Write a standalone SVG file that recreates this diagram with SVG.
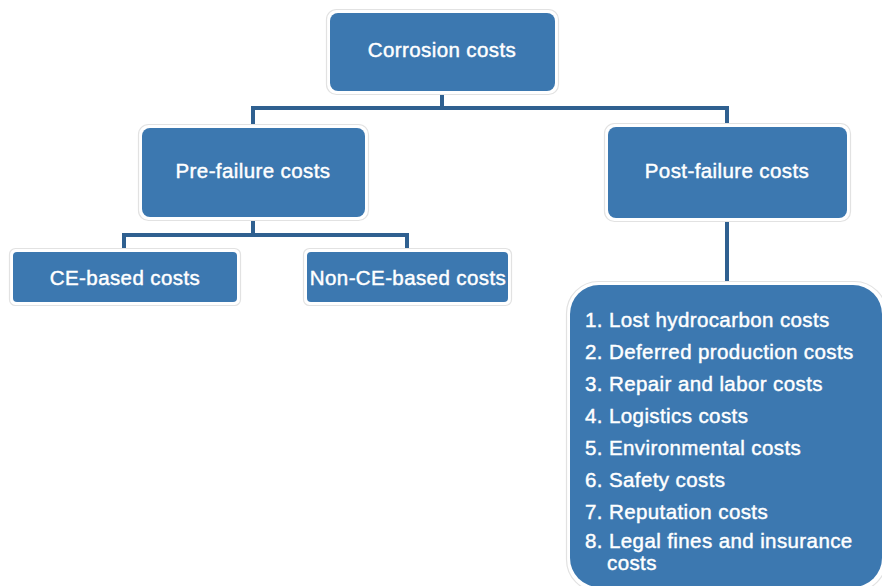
<svg xmlns="http://www.w3.org/2000/svg" width="882" height="586" viewBox="0 0 882 586">
<style>
.halo{fill:#ffffff;stroke:#e2e2e2;stroke-width:1.2}
.box{fill:#3c78b0}
.t{font-family:"Liberation Sans",Arial,sans-serif;font-size:20.5px;fill:#ffffff;stroke:#ffffff;stroke-width:0.45;letter-spacing:0.4px;text-anchor:middle}
.li{font-family:"Liberation Sans",Arial,sans-serif;font-size:20.5px;fill:#ffffff;stroke:#ffffff;stroke-width:0.45;letter-spacing:0.4px}
.conn{fill:none;stroke:#2f6090;stroke-width:4}
</style>
<rect width="882" height="586" fill="#ffffff"/>
<g id="connectors">
<path class="conn" d="M442 91 V108 M253 125 V108 H727 V127"/>
<path class="conn" d="M253 217 V235 M124 252 V235 H407 V252"/>
<path class="conn" d="M727 218 V285"/>
</g>
<g id="corrosion">
<rect class="halo" x="326.5" y="9.5" width="232" height="85" rx="10"/>
<rect class="box" x="330" y="13" width="225" height="78" rx="8"/>
<text class="t" x="442" y="57">Corrosion costs</text>
</g>
<g id="prefailure">
<rect class="halo" x="138.5" y="124.5" width="230" height="96" rx="10"/>
<rect class="box" x="142" y="128" width="223" height="89" rx="8"/>
<text class="t" x="253" y="178">Pre-failure costs</text>
</g>
<g id="postfailure">
<rect class="halo" x="604.5" y="123.5" width="246" height="98" rx="10"/>
<rect class="box" x="608" y="127" width="239" height="91" rx="8"/>
<text class="t" x="727" y="178">Post-failure costs</text>
</g>
<g id="ce">
<rect class="halo" x="9.5" y="248.5" width="231" height="57" rx="6"/>
<rect class="box" x="13" y="252" width="224" height="50" rx="4"/>
<text class="t" x="125" y="285">CE-based costs</text>
</g>
<g id="nonce">
<rect class="halo" x="303.5" y="248.5" width="208" height="57" rx="6"/>
<rect class="box" x="307" y="252" width="201" height="50" rx="4"/>
<text class="t" x="408" y="285">Non-CE-based costs</text>
</g>
<g id="list">
<rect class="halo" x="566.5" y="281.5" width="320" height="310" rx="32"/>
<rect class="box" x="570" y="285" width="312" height="302" rx="29"/>
<text class="li" x="585" y="327">1. Lost hydrocarbon costs</text>
<text class="li" x="585" y="359">2. Deferred production costs</text>
<text class="li" x="585" y="391">3. Repair and labor costs</text>
<text class="li" x="585" y="423">4. Logistics costs</text>
<text class="li" x="585" y="455">5. Environmental costs</text>
<text class="li" x="585" y="487">6. Safety costs</text>
<text class="li" x="585" y="519">7. Reputation costs</text>
<text class="li" x="585" y="548">8. Legal fines and insurance</text>
<text class="li" x="607" y="570">costs</text>
</g>
</svg>
